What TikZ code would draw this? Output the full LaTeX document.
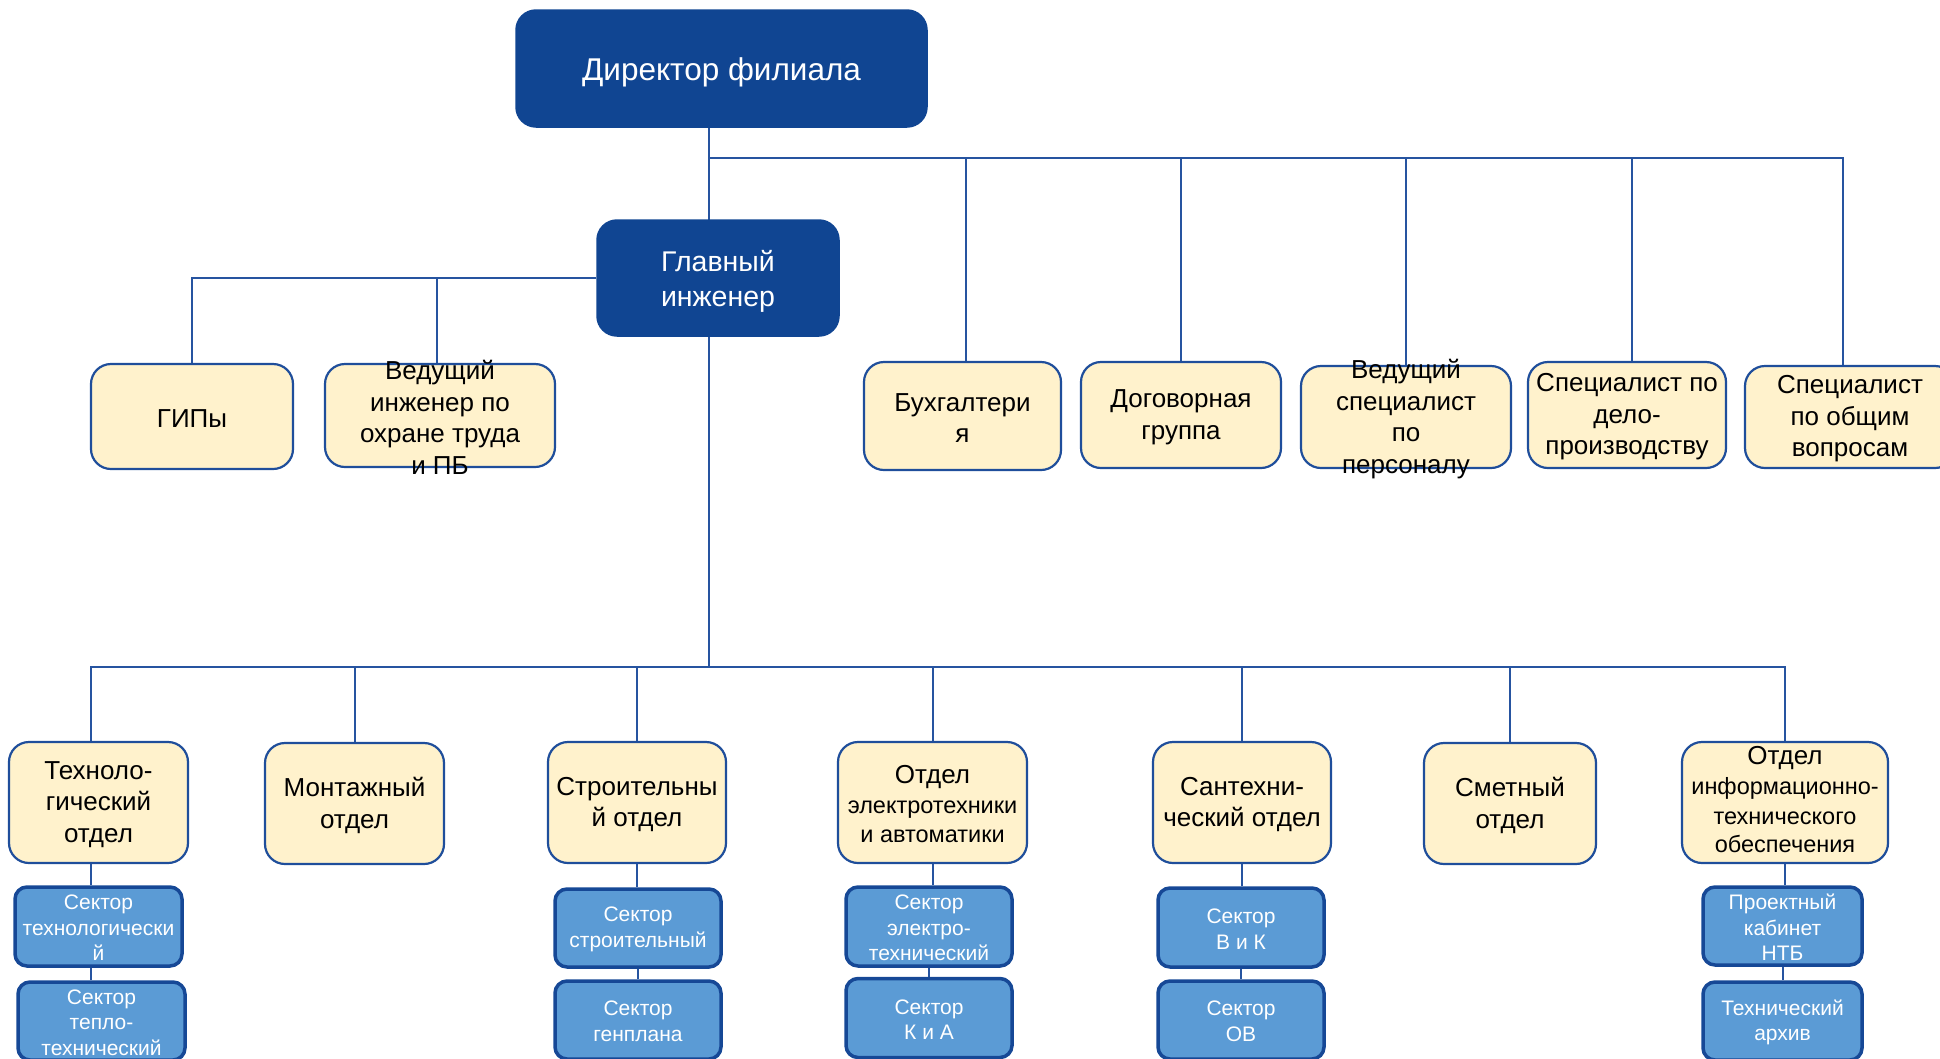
\documentclass[tikz,border=0pt]{standalone}
\usepackage{fontspec}
\setmainfont{Liberation Sans}
\usetikzlibrary{backgrounds}

\definecolor{navy}{RGB}{16,69,146}
\definecolor{edgecol}{RGB}{31,78,155}
\definecolor{wirecol}{RGB}{38,84,160}
\definecolor{cream}{RGB}{255,242,204}
\definecolor{sky}{RGB}{91,155,213}
\definecolor{skyedge}{RGB}{22,72,150}

\tikzset{
  headbox/.style={draw=navy, fill=navy, rounded corners=20pt, line width=1.5pt},
  unitbox/.style={draw=edgecol, fill=cream, rounded corners=20pt, line width=2.2pt},
  sectbox/.style={draw=skyedge, fill=sky, rounded corners=12pt, line width=3.5pt},
  wire/.style={draw=wirecol, line width=2pt},
  headtxt/.style={text=white, align=center, inner sep=0pt, yshift=-3.5pt},
  unittxt/.style={text=black, align=center, inner sep=0pt, yshift=-2pt, font=\fontsize{26pt}{31.5pt}\selectfont},
  secttxt/.style={text=white, align=center, inner sep=0pt, yshift=-1.5pt, font=\fontsize{21pt}{25.5pt}\selectfont},
}

\begin{document}
\begin{tikzpicture}[x=1pt, y=-1pt]
\useasboundingbox (0,0) rectangle (1940,1058);
\clip (0,0) rectangle (1940,1058);

% management
\node[headbox, minimum width=411pt, minimum height=117pt] (dir) at (721.5,68.5) {};
\node[headtxt, font=\fontsize{31.5pt}{37pt}\selectfont] (dir-t) at (dir) {Директор филиала};
\node[headbox, minimum width=242pt, minimum height=116pt] (ge) at (718,278) {};
\node[headtxt, font=\fontsize{28.5pt}{35pt}\selectfont] (ge-t) at (ge) {Главный\\инженер};

% units reporting to the director and the chief engineer
\node[unitbox, minimum width=202pt, minimum height=105pt] (gip) at (192,416.5) {};
\node[unittxt] (gip-t) at (gip) {ГИПы};
\node[unitbox, minimum width=230pt, minimum height=103pt] (vio) at (440,415.5) {};
\node[unittxt] (vio-t) at (vio) {Ведущий\\инженер по\\охране труда\\и ПБ};
\node[unitbox, minimum width=197pt, minimum height=108pt] (buh) at (962.5,416) {};
\node[unittxt] (buh-t) at (buh) {Бухгалтери\\я};
\node[unitbox, minimum width=200pt, minimum height=106pt] (dog) at (1181,415) {};
\node[unittxt] (dog-t) at (dog) {Договорная\\группа};
\node[unitbox, minimum width=210pt, minimum height=102pt] (vsp) at (1406,417) {};
\node[unittxt] (vsp-t) at (vsp) {Ведущий\\специалист\\по\\персоналу};
\node[unitbox, minimum width=198pt, minimum height=106pt] (del) at (1627,415) {};
\node[unittxt] (del-t) at (del) {Специалист по\\дело-\\производству};
\node[unitbox, minimum width=210pt, minimum height=102pt] (obs) at (1850,417) {};
\node[unittxt] (obs-t) at (obs) {Специалист\\по общим\\вопросам};

% departments
\node[unitbox, minimum width=179pt, minimum height=121pt] (tech) at (98.5,802.5) {};
\node[unittxt] (tech-t) at (tech) {Техноло-\\гический\\отдел};
\node[unitbox, minimum width=179pt, minimum height=121pt] (mont) at (354.5,803.5) {};
\node[unittxt] (mont-t) at (mont) {Монтажный\\отдел};
\node[unitbox, minimum width=178pt, minimum height=121pt] (stroi) at (637,802.5) {};
\node[unittxt] (stroi-t) at (stroi) {Строительны\\й отдел};
\node[unitbox, minimum width=189pt, minimum height=121pt] (elec) at (932.5,802.5) {};
\node[unittxt] (elec-t) at (elec) {Отдел\\[-2pt]\fontsize{23.5pt}{28pt}\selectfont электротехники\\[-2pt]\fontsize{23.5pt}{28pt}\selectfont и автоматики};
\node[unitbox, minimum width=178pt, minimum height=121pt] (sant) at (1242,802.5) {};
\node[unittxt] (sant-t) at (sant) {Сантехни-\\ческий отдел};
\node[unitbox, minimum width=172pt, minimum height=121pt] (smet) at (1510,803.5) {};
\node[unittxt] (smet-t) at (smet) {Сметный\\отдел};
\node[unitbox, minimum width=206pt, minimum height=121pt] (ito) at (1785,802.5) {};
\node[unittxt, yshift=4.5pt] (ito-t) at (ito) {Отдел\\[-1.5pt]\fontsize{23.5pt}{29pt}\selectfont информационно-\\[-2pt]\fontsize{23.5pt}{29pt}\selectfont технического\\[-3pt]\fontsize{23.5pt}{29pt}\selectfont обеспечения};

% sectors
\node[sectbox, minimum width=167pt, minimum height=79pt] (s1) at (98.5,926.5) {};
\node[secttxt] (s1-t) at (s1) {Сектор\\технологически\\й};
\node[sectbox, minimum width=167pt, minimum height=78pt] (s2) at (101.5,1021) {};
\node[secttxt] (s2-t) at (s2) {Сектор\\тепло-\\технический};
\node[sectbox, minimum width=166pt, minimum height=78pt] (s3) at (638,928) {};
\node[secttxt] (s3-t) at (s3) {Сектор\\строительный};
\node[sectbox, minimum width=166pt, minimum height=78pt] (s4) at (638,1020) {};
\node[secttxt] (s4-t) at (s4) {Сектор\\генплана};
\node[sectbox, minimum width=166pt, minimum height=79pt] (s5) at (929,926.5) {};
\node[secttxt] (s5-t) at (s5) {Сектор\\электро-\\технический};
\node[sectbox, minimum width=166pt, minimum height=79pt] (s6) at (929,1018) {};
\node[secttxt] (s6-t) at (s6) {Сектор\\К и А};
\node[sectbox, minimum width=166pt, minimum height=79pt] (s7) at (1241,927.5) {};
\node[secttxt] (s7-t) at (s7) {Сектор\\В и К};
\node[sectbox, minimum width=166pt, minimum height=78pt] (s8) at (1241,1020) {};
\node[secttxt] (s8-t) at (s8) {Сектор\\ОВ};
\node[sectbox, minimum width=159pt, minimum height=78pt] (s9) at (1782.5,926) {};
\node[secttxt] (s9-t) at (s9) {Проектный\\кабинет\\НТБ};
\node[sectbox, minimum width=159pt, minimum height=78pt] (s10) at (1782.5,1021) {};
\node[secttxt] (s10-t) at (s10) {Технический\\архив};

% junctions of the two buses and the left column drop line
\coordinate (trunk) at (709,158);
\coordinate (bot) at (709,667);
\coordinate (techdrop) at ([xshift=-7.5pt]tech.north);

\begin{scope}[on background layer]
  \draw[wire] (dir.south -| trunk) -- (bot);
  \draw[wire] (trunk) -| ([xshift=-7pt]obs.north);
  \draw[wire] (trunk -| buh.north) ++(3.5,0) -- ([xshift=3.5pt]buh.north);
  \draw[wire] (trunk -| del.north) ++(5,0) -- ([xshift=5pt]del.north);
  \foreach \n in {dog,vsp}
    \draw[wire] (trunk -| \n.north) -- (\n.north);
  \draw[wire] (ge.west) -| (gip.north);
  \draw[wire] (ge.west -| vio.north) ++(-3,0) -- ([xshift=-3pt]vio.north);
  \draw[wire] (techdrop) |- (ito.north |- bot) -- (ito.north);
  \foreach \n in {mont,stroi,elec,sant,smet}
    \draw[wire] (bot -| \n.north) -- (\n.north);
  \draw[wire] (techdrop |- tech.south) -- (techdrop |- s1.north);
  \draw[wire] (techdrop |- s1.south) -- (techdrop |- s2.north);
  \foreach \a/\b in {stroi/s3,s3/s4,elec/s5,s5/s6,sant/s7,s7/s8,ito/s9,s9/s10}
    \draw[wire] (\a.south) -- (\a.south |- \b.north);
\end{scope}
\end{tikzpicture}
\end{document}
